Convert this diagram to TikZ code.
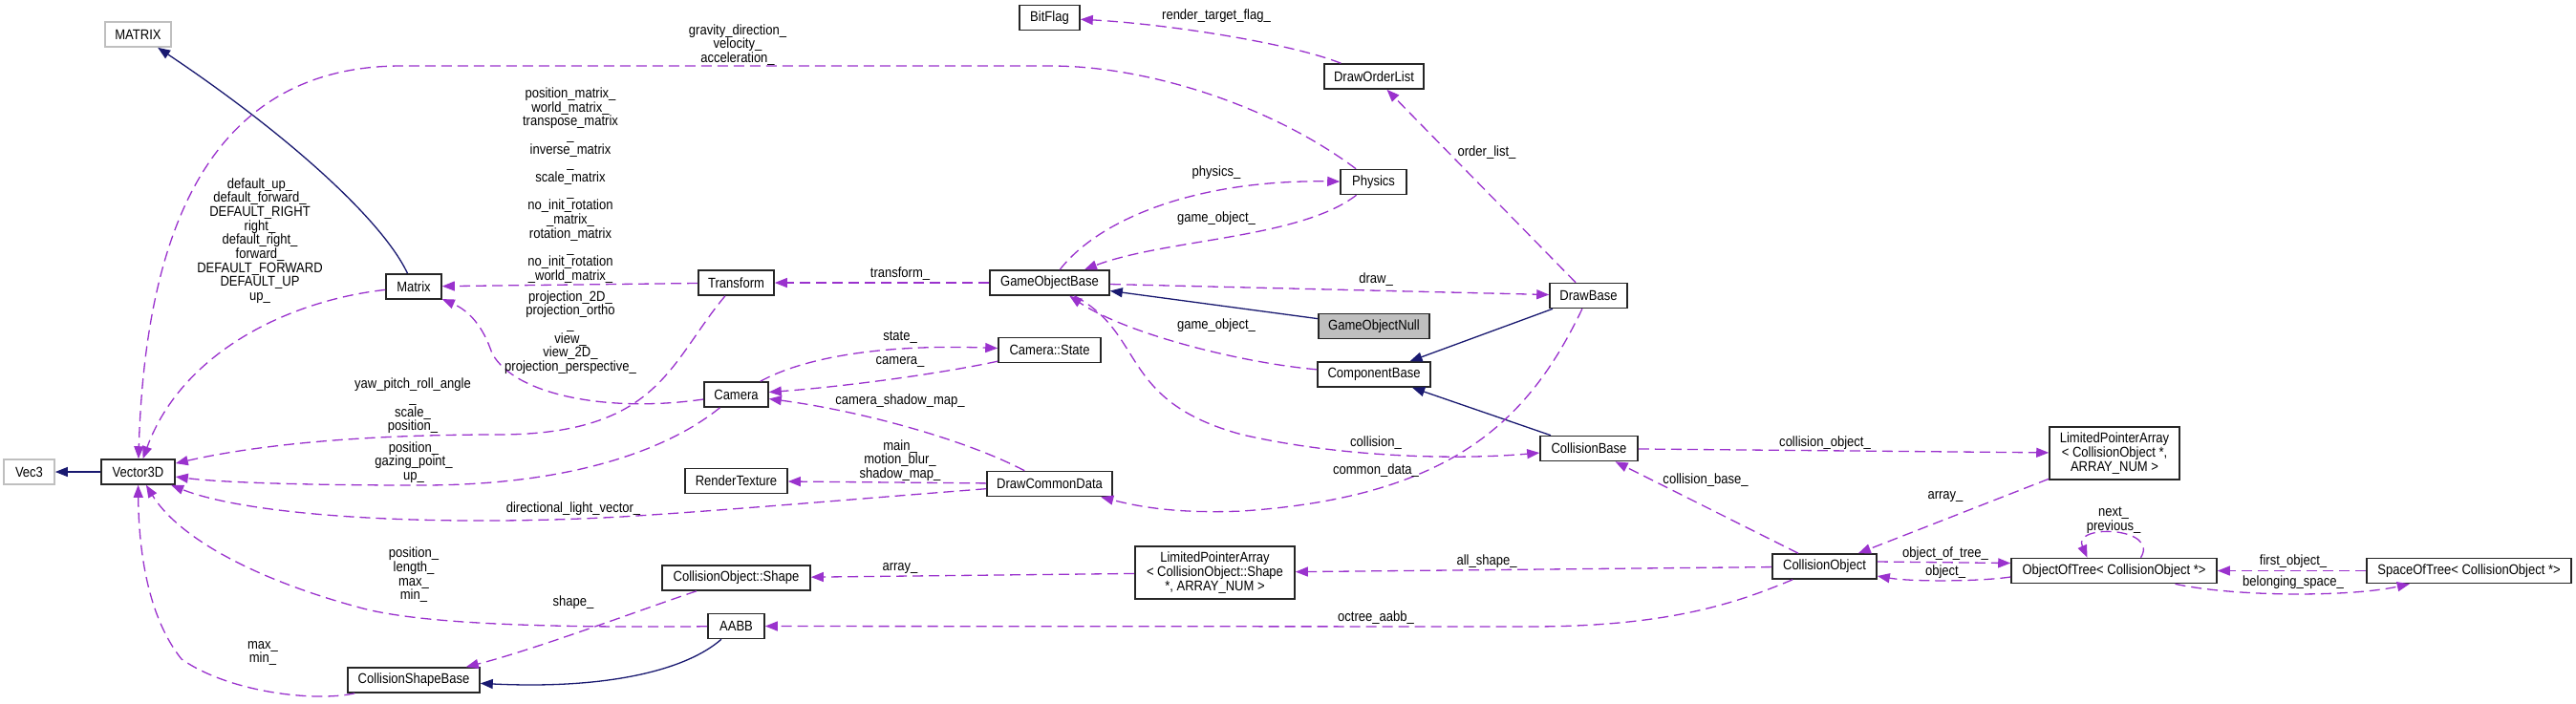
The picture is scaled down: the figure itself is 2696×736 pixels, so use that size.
\documentclass[tikz,border=0pt]{standalone}
\usepackage{fontspec}
\setmainfont{Liberation Sans}[FakeStretch=0.88]
\usetikzlibrary{arrows.meta}
\definecolor{membercol}{HTML}{9A32CD}
\definecolor{basecol}{HTML}{191970}
\definecolor{extcol}{HTML}{BFBFBF}
\tikzset{
  cls/.style={draw=black!85,line width=0.8pt,fill=white,minimum height=13pt,inner sep=1pt,align=center},
  ext/.style={cls,draw=extcol},
  lbl/.style={inner sep=0pt,align=center},
  member/.style={draw=membercol,line width=0.65pt,dash pattern=on 5.5pt off 3pt,-{Triangle[length=6.5pt,width=5pt]}},
  derive/.style={draw=basecol,line width=0.65pt,-{Triangle[length=6.5pt,width=5pt]}}
}
\begin{document}
\begin{tikzpicture}[x=0.5pt,y=-0.5pt,every node/.style={font=\fontsize{7.4}{7.35}\selectfont}]
	\useasboundingbox (0,0) rectangle (2696,736);

	\node[ext,minimum width=34.5pt] (bigmatrix) at (144.5,36) {MATRIX};
	\node[ext,minimum width=26.5pt] (vec3) at (30.5,494) {Vec3};
	\node[cls,minimum width=38.5pt] (vecd) at (144.5,494) {Vector3D};
	\node[cls,minimum width=29pt] (matrix) at (433,300) {Matrix};
	\node[cls,minimum width=69pt] (csb) at (433,712) {CollisionShapeBase};
	\node[cls,minimum width=39.5pt] (transform) at (770.5,296) {Transform};
	\node[cls,minimum width=33.5pt] (camera) at (770.5,413) {Camera};
	\node[cls,minimum width=53.5pt] (rtex) at (770.5,503.5) {RenderTexture};
	\node[cls,minimum width=77.5pt] (cos) at (770.5,605) {CollisionObject::Shape};
	\node[cls,minimum width=29.5pt] (aabb) at (770.5,655.5) {AABB};
	\node[cls,minimum width=31.5pt] (bitflag) at (1098.5,18.5) {BitFlag};
	\node[cls,minimum width=62.5pt] (gob) at (1098.5,296) {GameObjectBase};
	\node[cls,minimum width=53.5pt] (camstate) at (1098.5,366.5) {Camera::State};
	\node[cls,minimum width=65.5pt] (dcd) at (1098.5,506.5) {DrawCommonData};
	\node[cls,minimum width=83.5pt,minimum height=27.5pt] (lpashape) at (1271.5,599.5) {LimitedPointerArray\\< CollisionObject::Shape\\ *, ARRAY\_NUM >};
	\node[cls,minimum width=52pt] (dol) at (1438,80) {DrawOrderList};
	\node[cls,minimum width=34.5pt] (phys) at (1437.5,190.5) {Physics};
	\node[cls,minimum width=58pt,fill=extcol] (gon) at (1438,341.5) {GameObjectNull};
	\node[cls,minimum width=59pt] (compbase) at (1438,392) {ComponentBase};
	\node[cls,minimum width=40.5pt] (drawbase) at (1662.5,309.5) {DrawBase};
	\node[cls,minimum width=51pt] (collbase) at (1663,469.5) {CollisionBase};
	\node[cls,minimum width=54.5pt] (collobj) at (1909.5,593) {CollisionObject};
	\node[cls,minimum width=68pt,minimum height=27.5pt] (lpaco) at (2213,474.5) {LimitedPointerArray\\< CollisionObject *,\\ ARRAY\_NUM >};
	\node[cls,minimum width=107.5pt] (oot) at (2212.5,597.5) {ObjectOfTree< CollisionObject *>};
	\node[cls,minimum width=107pt] (sot) at (2584,597.5) {SpaceOfTree< CollisionObject *>};

	\draw[derive] (matrix) .. controls (400,230) and (300,140) .. (bigmatrix);
	\draw[derive] (vecd) -- (vec3);
	\draw[derive] (aabb) .. controls (720,700) and (640,722) .. (csb);
	\draw[derive] (gon) -- (gob);
	\draw[derive] (drawbase) -- (compbase);
	\draw[derive] (collbase) -- (compbase);

	\draw[member] (phys) .. controls (1330,110) and (1200,69) .. (1100,69) -- (420,69) .. controls (215,69) and (152,250) .. (vecd);
	\draw[member] (matrix) .. controls (300,315) and (190,370) .. (vecd);
	\draw[member] (transform) -- (matrix);
	\draw[member] (camera) .. controls (640,432) and (540,415) .. (515,370) .. controls (505,340) and (490,325) .. (matrix);
	\draw[member] (transform) .. controls (700,380) and (690,455) .. (520,455) .. controls (350,455) and (250,470) .. (vecd);
	\draw[member] (camera) .. controls (700,470) and (600,508) .. (440,508) .. controls (320,508) and (230,505) .. (vecd);
	\draw[member] (dcd) .. controls (900,522) and (750,535) .. (650,541) .. controls (450,552) and (260,540) .. (vecd);
	\draw[member] (aabb) .. controls (600,657) and (450,655) .. (380,637) .. controls (260,605) and (185,560) .. (vecd);
	\draw[member] (csb) .. controls (330,735) and (240,725) .. (190,690) .. controls (150,640) and (145,560) .. (vecd);
	\draw[member] (cos) .. controls (680,635) and (560,680) .. (csb);
	\draw[member] (gob) -- (transform);
	\draw[member] (gob) .. controls (1150,230) and (1250,188) .. (phys);
	\draw[member] (phys) .. controls (1360,250) and (1220,250) .. (gob);
	\draw[member] (gob) -- (drawbase);
	\draw[member] (compbase) .. controls (1300,380) and (1180,350) .. (gob);
	\draw[member] (gob) .. controls (1200,350) and (1170,420) .. (1300,455) .. controls (1400,478) and (1520,482) .. (collbase);
	\draw[member] (drawbase) -- (dol);
	\draw[member] (dol) .. controls (1350,45) and (1220,25) .. (bitflag);
	\draw[member] (drawbase) .. controls (1600,440) and (1520,520) .. (1300,535) .. controls (1230,538) and (1190,530) .. (dcd);
	\draw[member] (camera) .. controls (840,375) and (920,360) .. (camstate);
	\draw[member] (camstate) .. controls (980,392) and (880,405) .. (camera);
	\draw[member] (dcd) .. controls (1010,460) and (900,430) .. (camera);
	\draw[member] (dcd) -- (rtex);
	\draw[member] (collbase) -- (lpaco);
	\draw[member] (collobj) -- (collbase);
	\draw[member] (lpaco) -- (collobj);
	\draw[member] (collobj) -- (lpashape);
	\draw[member] (lpashape) -- (cos);
	\draw[member] (collobj) .. controls (1820,630) and (1750,656) .. (1600,656) -- (aabb);
	\draw[member] ([yshift=2.5pt]collobj.east) -- ([yshift=4pt]oot.west);
	\draw[member] ([yshift=-3.25pt]oot.west) .. controls (2070,609) and (2000,609) .. ([yshift=-5pt]collobj.east);
	\draw[member] ([xshift=14pt]oot.north) .. controls +(10pt,16pt) and +(-8pt,18pt) .. ([xshift=-14pt]oot.north);
	\draw[member] (sot) -- (oot);
	\draw[member] (oot) .. controls (2340,625) and (2460,625) .. (sot);

	\node[lbl] (l-gravity) at (772,47) {gravity\_direction\_\\velocity\_\\acceleration\_};
	\node[lbl] (l-default) at (272,252) {default\_up\_\\default\_forward\_\\DEFAULT\_RIGHT\\right\_\\default\_right\_\\forward\_\\DEFAULT\_FORWARD\\DEFAULT\_UP\\up\_};
	\node[lbl] (l-matrices) at (597,194) {position\_matrix\_\\world\_matrix\_\\transpose\_matrix\\\_\\inverse\_matrix\\\_\\scale\_matrix\\\_\\no\_init\_rotation\\\_matrix\_\\rotation\_matrix\\\_\\no\_init\_rotation\\\_world\_matrix\_};
	\node[lbl] (l-projection) at (597,348) {projection\_2D\_\\projection\_ortho\\\_\\view\_\\view\_2D\_\\projection\_perspective\_};
	\node[lbl] (l-yaw) at (432,425) {yaw\_pitch\_roll\_angle\\\_\\scale\_\\position\_};
	\node[lbl] (l-gazing) at (433,484) {position\_\\gazing\_point\_\\up\_};
	\node[lbl] (l-light) at (600,533) {directional\_light\_vector\_};
	\node[lbl] (l-length) at (433,602) {position\_\\length\_\\max\_\\min\_};
	\node[lbl] (l-shape) at (600,631) {shape\_};
	\node[lbl] (l-maxmin) at (275,684) {max\_\\min\_};
	\node[lbl] (l-transform) at (942,287) {transform\_};
	\node[lbl] (l-physics) at (1273,181) {physics\_};
	\node[lbl] (l-gameobj1) at (1273,229) {game\_object\_};
	\node[lbl] (l-draw) at (1440,293) {draw\_};
	\node[lbl] (l-gameobj2) at (1273,341) {game\_object\_};
	\node[lbl] (l-orderlist) at (1556,160) {order\_list\_};
	\node[lbl] (l-flag) at (1273,17) {render\_target\_flag\_};
	\node[lbl] (l-state) at (942,353) {state\_};
	\node[lbl] (l-camera) at (942,379) {camera\_};
	\node[lbl] (l-shadowcam) at (942,420) {camera\_shadow\_map\_};
	\node[lbl] (l-targets) at (942,482) {main\_\\motion\_blur\_\\shadow\_map\_};
	\node[lbl] (l-common) at (1440,493) {common\_data\_};
	\node[lbl] (l-collision) at (1440,464) {collision\_};
	\node[lbl] (l-collobj) at (1910,464) {collision\_object\_};
	\node[lbl] (l-collbase) at (1785,503) {collision\_base\_};
	\node[lbl] (l-array1) at (2036,520) {array\_};
	\node[lbl] (l-allshape) at (1556,588) {all\_shape\_};
	\node[lbl] (l-array2) at (942,595) {array\_};
	\node[lbl] (l-octree) at (1440,647) {octree\_aabb\_};
	\node[lbl] (l-oftree) at (2036,580) {object\_of\_tree\_};
	\node[lbl] (l-object) at (2036,599) {object\_};
	\node[lbl] (l-nextprev) at (2212,545) {next\_\\previous\_};
	\node[lbl] (l-first) at (2400,588) {first\_object\_};
	\node[lbl] (l-belong) at (2400,610) {belonging\_space\_};
\end{tikzpicture}
\end{document}
